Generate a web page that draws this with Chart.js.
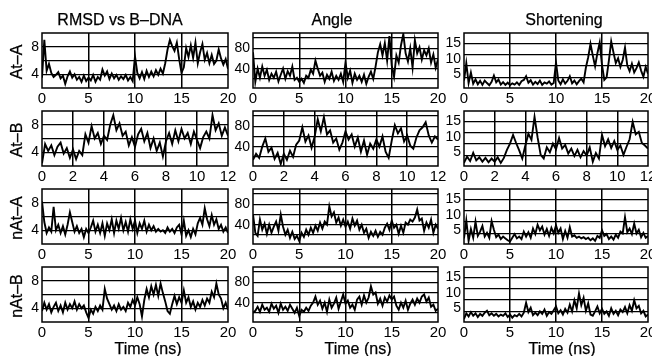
<!DOCTYPE html>
<html>
<head>
<meta charset="utf-8">
<script src="https://cdn.jsdelivr.net/npm/chart.js@4.4.0/dist/chart.umd.min.js"></script>
<style>
  body { margin: 0; background: #fff; }
  #fig { position: relative; width: 652px; height: 356px; overflow: hidden;
         font-family: "Liberation Sans", Arial, Helvetica, sans-serif; color: #000; }
  .panel { position: absolute; }
  .lbl { position: absolute; white-space: nowrap; font-size: 16px; line-height: 18px;
         transform: translate(-50%, -50%); -webkit-text-stroke: 0.25px #000; }
  .row { transform: translate(-50%, -50%) rotate(-90deg); }
</style>
</head>
<body>
<div id="fig"></div>
<script>
// column titles, row names
const columnTitles = ['RMSD vs B\u2013DNA', 'Angle', 'Shortening'];
const rowNames = ['At\u2013A', 'At\u2013B', 'nAt\u2013A', 'nAt\u2013B'];
const xTitle = 'Time (ns)';

// run lengths (ns) per row and x tick labels
const runLength = [20, 12, 20, 20];
const xTicksLong = [0, 5, 10, 15, 20];
const xTicksShort = [0, 2, 4, 6, 8, 10, 12];

// y axes: range, grid lines and labelled ticks
const rmsdRange = [2, 10];
const rmsdGrid = [4, 6, 8];
const rmsdLabels = [4, 8];
const angleRange = [2, 110];
const angleGrid = [20, 40, 60, 80, 100];
const angleLabels = [40, 80];
const shortRange = [0.6, 18.3];
const shortGrid = [4.1, 7.7, 11.3, 14.9];
const shortLabels = [5, 10, 15];

// At-A (0-20 ns)
const rmsdAtA = [3.5, 9.0, 4.5, 5.5, 4.2, 3.6, 3.9, 4.3, 3.4, 3.8,
  2.6, 3.7, 4.4, 3.5, 4.0, 3.2, 3.6, 2.9, 3.8, 3.0,
  3.5, 3.1, 3.9, 2.9, 3.6, 3.2, 4.7, 3.8, 4.4, 3.3,
  4.1, 3.4, 3.9, 3.2, 3.7, 3.3, 3.9, 3.1, 3.6, 3.0,
  6.6, 4.2, 3.4, 4.3, 3.3, 4.5, 3.6, 4.4, 3.7, 4.6,
  3.9, 4.8, 4.1, 5.6, 7.6, 9.0, 8.1, 7.4, 8.6, 6.2,
  4.2, 5.0, 7.8, 6.5, 8.2, 6.4, 8.6, 5.6, 7.2, 8.4,
  6.1, 7.1, 5.6, 6.8, 5.5, 6.0, 7.6, 6.3, 5.4, 6.2, 4.8];
const angleAtA = [72, 14, 40, 22, 44, 26, 38, 18, 30, 22,
  34, 15, 28, 40, 20, 35, 26, 44, 18, 22,
  14, 20, 12, 26, 22, 38, 30, 56, 40, 26,
  32, 14, 28, 20, 34, 16, 26, 18, 30, 14,
  52, 22, 36, 12, 30, 18, 26, 14, 28, 10,
  24, 34, 20, 44, 72, 88, 66, 90, 56, 104,
  46, 24, 66, 52, 86, 108, 70, 54, 80, 42,
  96, 70, 82, 58, 76, 66, 80, 52, 68, 42, 58];
const shortAtA = [3.0, 8.6, 2.2, 5.6, 2.0, 3.4, 1.8, 2.9, 1.6, 3.0,
  2.2, 1.5, 2.6, 4.6, 2.4, 3.3, 1.7, 2.5, 1.6, 2.3,
  1.5, 2.1, 1.7, 2.4, 1.6, 2.8, 3.2, 4.4, 2.3, 3.1,
  1.7, 2.6, 1.9, 3.0, 1.6, 2.4, 2.0, 2.7, 1.7, 2.2,
  8.8, 3.0, 1.8, 3.4, 2.0, 2.9, 4.4, 2.1, 3.0, 1.8,
  2.8, 3.6, 2.4, 7.2, 10.5, 14.8, 11.0, 7.6, 11.8, 15.2,
  8.0, 3.2, 4.0, 9.5, 15.6, 12.0, 8.6, 10.2, 7.4, 9.6,
  13.6, 7.8, 6.0, 8.4, 5.6, 7.0, 8.8, 6.2, 4.2, 7.4, 5.2];

// At-B (0-12 ns)
const rmsdAtB = [2.4, 5.2, 4.2, 5.0, 3.6, 4.8, 5.4, 3.8, 4.6, 3.2,
  4.4, 3.0, 4.2, 3.6, 6.6, 5.4, 7.8, 6.0, 6.8, 5.2,
  6.4, 5.8, 8.0, 9.4, 7.2, 8.2, 6.4, 7.0, 5.0, 6.2,
  4.8, 6.6, 7.4, 5.6, 6.8, 4.6, 6.0, 4.2, 5.4, 3.4,
  5.6, 6.8, 5.2, 7.2, 5.6, 7.4, 6.0, 6.8, 5.2, 7.0,
  5.8, 4.6, 6.2, 7.0, 6.0, 9.4, 7.2, 8.2, 6.4, 7.6, 6.4];
const angleAtB = [14, 26, 18, 40, 56, 30, 38, 16, 28, 6,
  26, 14, 32, 20, 44, 52, 78, 50, 62, 38,
  60, 94, 70, 98, 64, 72, 48, 56, 34, 48,
  70, 54, 64, 40, 58, 30, 52, 24, 46, 36,
  54, 40, 60, 30, 18, 52, 82, 66, 76, 50,
  62, 42, 36, 58, 72, 78, 88, 62, 48, 60, 54];
const shortAtB = [1.6, 3.6, 2.2, 4.8, 2.4, 3.4, 2.0, 3.2, 1.8, 3.0,
  2.0, 3.4, 1.6, 3.2, 5.8, 7.8, 10.6, 8.0, 5.6, 3.0,
  7.2, 11.0, 9.0, 16.4, 9.8, 4.2, 3.0, 6.6, 5.0, 7.8,
  6.0, 9.6, 6.2, 7.4, 4.6, 6.2, 3.8, 5.8, 3.4, 5.4,
  4.0, 6.6, 2.0, 4.8, 3.0, 10.6, 7.0, 9.2, 6.4, 8.6,
  5.8, 7.2, 4.2, 6.8, 9.2, 14.8, 10.8, 11.6, 8.0, 7.2, 6.2];

// nAt-A (0-20 ns)
const rmsdNAtA = [8.2, 5.2, 3.6, 4.4, 3.8, 7.4, 4.0, 4.8, 3.6, 4.6,
  3.4, 4.8, 6.6, 5.2, 3.8, 4.6, 3.6, 4.2, 3.0, 4.2,
  3.6, 4.4, 5.4, 3.8, 4.8, 3.6, 5.0, 3.2, 5.0, 4.0,
  5.6, 3.6, 5.4, 4.2, 5.8, 4.0, 5.2, 3.8, 5.6, 4.2,
  5.4, 3.6, 5.0, 4.2, 5.4, 3.8, 4.8, 4.0, 4.6, 3.8,
  4.2, 3.8, 4.0, 3.6, 4.4, 3.8, 4.2, 3.6, 4.4, 4.8,
  3.4, 5.4, 3.2, 4.0, 3.0, 4.2, 3.4, 5.0, 5.8, 4.8,
  7.2, 5.6, 4.6, 6.2, 4.8, 5.6, 4.2, 4.8, 3.8, 4.4, 3.6];
const angleNAtA = [60, 24, 18, 50, 30, 42, 22, 40, 24, 36,
  46, 28, 60, 36, 20, 30, 14, 26, 12, 18,
  8, 24, 16, 30, 20, 34, 24, 38, 28, 44,
  32, 46, 40, 76, 56, 64, 44, 54, 38, 50,
  36, 46, 32, 52, 38, 48, 30, 40, 24, 32,
  14, 26, 18, 28, 16, 26, 20, 34, 42, 30,
  48, 34, 40, 22, 38, 24, 44, 40, 50, 46,
  54, 70, 48, 52, 28, 44, 34, 50, 24, 40, 32];
const shortNAtA = [2.4, 8.2, 1.6, 5.4, 2.6, 7.8, 3.2, 4.6, 6.4, 3.0,
  4.2, 2.6, 8.0, 5.2, 2.8, 3.6, 2.2, 3.0, 2.4, 1.8,
  1.4, 2.6, 3.8, 2.4, 3.0, 2.2, 4.6, 3.0, 4.4, 2.6,
  5.6, 3.8, 6.8, 5.0, 6.2, 3.6, 5.4, 3.2, 5.8, 4.0,
  6.6, 4.2, 5.6, 2.2, 4.8, 2.6, 6.0, 3.0, 3.4, 2.6,
  3.0, 2.4, 2.8, 2.2, 2.6, 1.8, 2.4, 1.6, 3.2, 2.6,
  5.0, 3.2, 3.8, 2.2, 3.0, 2.0, 3.6, 2.6, 4.6, 4.0,
  9.2, 4.4, 5.6, 3.8, 7.2, 4.0, 5.2, 2.8, 4.2, 2.6, 3.2];

// nAt-B (0-20 ns)
const rmsdNAtB = [3.6, 4.8, 3.8, 4.6, 3.4, 4.2, 4.8, 3.6, 4.4, 3.4,
  4.8, 3.8, 4.6, 4.0, 5.0, 3.8, 4.6, 4.0, 4.4, 3.4,
  2.6, 3.8, 3.2, 4.2, 3.6, 4.4, 3.8, 6.8, 5.4, 4.6,
  3.8, 4.4, 3.6, 4.6, 3.8, 4.2, 3.6, 4.8, 4.2, 5.2,
  4.4, 5.6, 4.6, 2.8, 5.2, 6.8, 5.6, 7.2, 6.0, 7.4,
  5.8, 7.6, 6.2, 5.0, 3.6, 3.2, 4.6, 5.8, 4.6, 5.6,
  4.8, 6.6, 4.8, 5.6, 4.2, 5.0, 3.8, 4.8, 4.2, 5.2,
  4.4, 5.4, 4.8, 6.4, 5.6, 7.6, 6.0, 5.4, 4.0, 4.8, 3.8];
const angleNAtB = [20, 24, 32, 22, 36, 26, 30, 22, 38, 28,
  34, 20, 38, 26, 32, 24, 36, 28, 20, 30,
  14, 26, 22, 30, 24, 34, 40, 52, 36, 44,
  28, 40, 22, 46, 30, 38, 50, 28, 42, 56,
  38, 44, 30, 36, 26, 46, 52, 36, 54, 40,
  50, 72, 56, 60, 38, 48, 34, 50, 42, 54,
  46, 52, 34, 26, 40, 30, 44, 26, 38, 46,
  36, 48, 40, 52, 56, 42, 50, 32, 36, 24, 28];
const shortNAtB = [1.6, 3.4, 2.4, 3.8, 2.6, 3.4, 2.2, 3.2, 2.6, 3.6,
  4.2, 2.8, 3.4, 2.6, 3.2, 2.4, 3.0, 2.6, 3.4, 2.2,
  3.0, 2.0, 2.8, 2.4, 3.2, 2.4, 3.6, 6.8, 3.8, 5.2,
  2.8, 3.6, 2.8, 4.0, 3.2, 4.6, 2.6, 3.8, 3.2, 4.4,
  5.6, 3.4, 4.4, 3.0, 4.8, 3.6, 6.2, 4.0, 7.6, 5.0,
  9.8, 6.0, 8.4, 4.2, 6.6, 3.0, 2.6, 4.0, 5.6, 3.4,
  4.8, 3.2, 4.0, 2.6, 5.0, 3.2, 4.2, 2.8, 4.6, 3.8,
  5.4, 3.4, 6.0, 4.2, 7.6, 5.0, 5.8, 3.4, 4.2, 2.4, 3.0];

const series = [
  [rmsdAtA, angleAtA, shortAtA],
  [rmsdAtB, angleAtB, shortAtB],
  [rmsdNAtA, angleNAtA, shortNAtA],
  [rmsdNAtB, angleNAtB, shortNAtB]
];
const yAxes = [
  { range: rmsdRange, grid: rmsdGrid, labels: rmsdLabels },
  { range: angleRange, grid: angleGrid, labels: angleLabels },
  { range: shortRange, grid: shortGrid, labels: shortLabels }
];

// plot boxes in page pixels
const boxLeft = [42, 253, 464];
const boxRight = [228, 438, 648];
const boxTop = [33, 111, 189, 267];
const boxBottom = [88, 166, 244, 322];
const titleX = [120, 332, 564];
const xTitleX = [148, 358, 562];

const Y_W = 34, X_H = 20, PAD_R = 14, PAD_T = 6;

Chart.defaults.font.family = "'Liberation Sans', Arial, Helvetica, sans-serif";
Chart.defaults.color = '#000';

// closes the box around each plot
const frame = {
  id: 'frame',
  afterDraw(chart) {
    const a = chart.chartArea, c = chart.ctx;
    c.save();
    c.strokeStyle = '#000';
    c.lineWidth = 1.5;
    c.strokeRect(a.left, a.top, a.right - a.left, a.bottom - a.top);
    c.restore();
  }
};

const fig = document.getElementById('fig');

function addLabel(text, x, y, cls, size) {
  const d = document.createElement('div');
  d.className = 'lbl' + (cls ? ' ' + cls : '');
  d.style.left = x + 'px';
  d.style.top = y + 'px';
  if (size) d.style.fontSize = size + 'px';
  d.textContent = text;
  fig.appendChild(d);
}

function makePanel(r, c) {
  const values = series[r][c];
  const tmax = runLength[r];
  const xt = tmax === 12 ? xTicksShort : xTicksLong;
  const ax = yAxes[c];
  const yt = [...new Set([...ax.grid, ...ax.labels])].sort((a, b) => a - b);

  const w = boxRight[c] - boxLeft[c] + Y_W + PAD_R;
  const h = boxBottom[r] - boxTop[r] + PAD_T + X_H;
  const holder = document.createElement('div');
  holder.className = 'panel';
  holder.style.left = (boxLeft[c] - Y_W) + 'px';
  holder.style.top = (boxTop[r] - PAD_T) + 'px';
  const canvas = document.createElement('canvas');
  canvas.width = w;
  canvas.height = h;
  canvas.style.width = w + 'px';
  canvas.style.height = h + 'px';
  holder.appendChild(canvas);
  fig.appendChild(holder);

  const pts = values.map((v, i) => ({ x: i * tmax / (values.length - 1), y: v }));

  new Chart(canvas, {
    type: 'line',
    data: {
      datasets: [{
        data: pts,
        borderColor: '#000',
        borderWidth: 1.9,
        borderJoinStyle: 'miter',
        pointRadius: 0,
        tension: 0
      }]
    },
    options: {
      animation: false,
      responsive: false,
      devicePixelRatio: 1,
      layout: { padding: { left: 0, right: PAD_R, top: PAD_T, bottom: 0 } },
      plugins: { legend: { display: false }, tooltip: { enabled: false } },
      scales: {
        x: {
          type: 'linear',
          min: 0,
          max: tmax,
          afterBuildTicks: s => { s.ticks = xt.map(v => ({ value: v })); },
          afterFit: s => { s.height = X_H; s.paddingLeft = 0; s.paddingRight = 0; },
          border: { display: false },
          grid: {
            drawTicks: false,
            lineWidth: 1.5,
            color: ctx => (ctx.tick && ctx.tick.value > 0 && ctx.tick.value < tmax) ? '#000' : 'rgba(0,0,0,0)'
          },
          ticks: { font: { size: 15 }, padding: 2, maxRotation: 0, autoSkip: false }
        },
        y: {
          type: 'linear',
          min: ax.range[0],
          max: ax.range[1],
          afterBuildTicks: s => { s.ticks = yt.map(v => ({ value: v })); },
          afterFit: s => { s.width = Y_W; s.paddingTop = 0; s.paddingBottom = 0; },
          border: { display: false },
          grid: {
            drawTicks: false,
            lineWidth: 1.2,
            color: ctx => (ctx.tick && ax.grid.includes(ctx.tick.value)) ? '#000' : 'rgba(0,0,0,0)'
          },
          ticks: {
            font: { size: 14 },
            padding: 3,
            autoSkip: false,
            callback: v => ax.labels.includes(v) ? String(v) : ''
          }
        }
      }
    },
    plugins: [frame]
  });
}

for (let r = 0; r < 4; r++) {
  for (let c = 0; c < 3; c++) makePanel(r, c);
}

columnTitles.forEach((t, c) => addLabel(t, titleX[c], 20, '', 16));
rowNames.forEach((t, r) => addLabel(t, 17, (boxTop[r] + boxBottom[r]) / 2 + 1, 'row', 16));
xTitleX.forEach(x => addLabel(xTitle, x, 349, '', 16));
</script>
</body>
</html>
